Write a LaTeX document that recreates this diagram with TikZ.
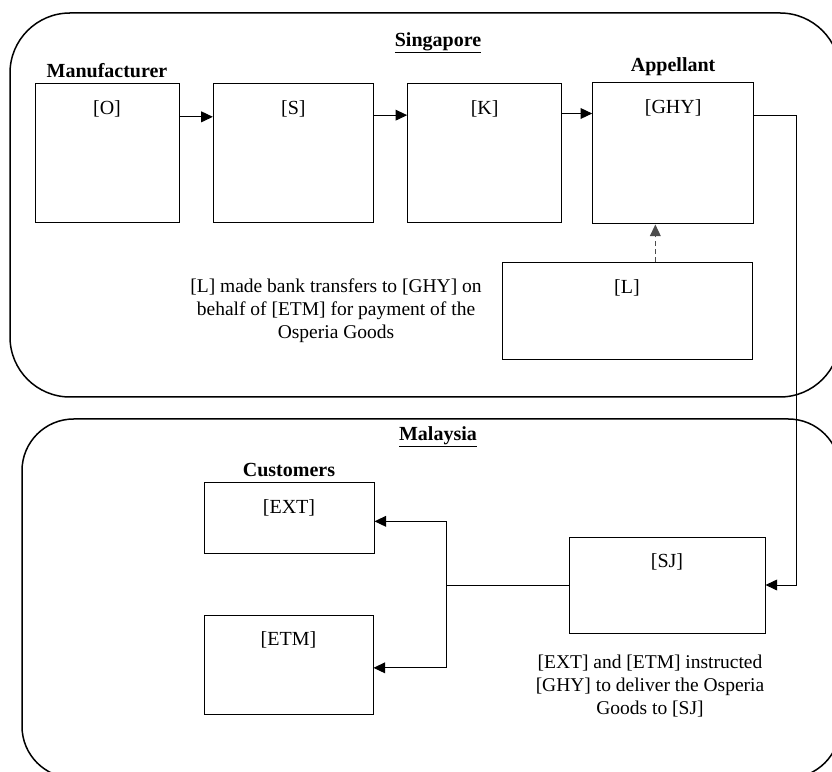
\documentclass[tikz,border=0pt]{standalone}
\usepackage{fontspec}
\setmainfont{Liberation Serif}
\usetikzlibrary{arrows.meta,positioning}

\begin{document}
\begin{tikzpicture}[
        x=0.6pt, y=-0.6pt,
        font=\fontsize{12}{14}\selectfont,
        node distance=20pt,
        region/.style={
          draw,
          line width=0.9pt
        },
        box/.style={
          draw,
          line width=0.6pt,
          inner sep=0pt,
          minimum height=83.4pt
        },
        inbox/.style={
          label={[anchor=north,yshift=-7pt]north:#1}
        },
        tag/.style={
          font=\fontsize{12}{14}\selectfont\bfseries,
          inner sep=1pt
        },
        note/.style={
          align=center,
          inner sep=0pt,
          font=\fontsize{11.7}{13.8}\selectfont
        },
        arrow/.style={
          -{Triangle[length=7pt,width=6.5pt]},
          line width=0.6pt
        },
        dasharrow/.style={
          arrow,
          dash pattern=on 3pt off 2pt,
          black!70
        }
      ]

      \useasboundingbox (0,0) rectangle (832,772);

      % regions
      \draw[region, rounded corners=36pt] (10,13) rectangle (840,397);
      \draw[region, rounded corners=31pt] (22,419) rectangle (840,778);
      \node[tag] (sgtitle) at (438,43) {\underline{Singapore}};
      \node[tag] (mytitle) at (438,437) {\underline{Malaysia}};

      % Singapore chain
      \node[box, minimum width=86.4pt, inbox={[O]}] (o) at (107,153.5) {};
      \node[box, minimum width=96pt, inbox={[S]}, right=20pt of o] (s) {};
      \node[box, minimum width=92.4pt, inbox={[K]}, right=20pt of s] (k) {};
      \node[box, minimum width=96.6pt, minimum height=84.6pt, inbox={[GHY]}, right=18pt of k] (ghy) {};
      \node[box, minimum width=150pt, minimum height=58.2pt, inbox={[L]}] (l) at (627,311.5) {};
      \node[tag, above=2pt of o] (maker) {Manufacturer};
      \node[tag, above=3pt of ghy] (appellant) {Appellant};
      \node[note] (paynote) at (336,311) {[L] made bank transfers to [GHY] on\\behalf of [ETM] for payment of the\\Osperia Goods};

      \draw[arrow] ([yshift=22pt]o.east) -- ([yshift=22pt]s.west);
      \draw[arrow] ([yshift=23pt]s.east) -- ([yshift=23pt]k.west);
      \draw[arrow] ([yshift=24pt]k.east) -- ([yshift=24pt]k.east -| ghy.west);
      \draw[dasharrow] ([xshift=17pt]l.north) -- ([xshift=17pt]l.north |- ghy.south);

      % Malaysia
      \node[box, minimum width=117.6pt, minimum height=57.6pt, inbox={[SJ]}] (sj) at (667,585) {};
      \node[box, minimum width=102pt, minimum height=42pt, inbox={[EXT]}] (ext) at (289,518) {};
      \node[box, minimum width=101.4pt, minimum height=59.4pt, inbox={[ETM]}] (etm) at (288.5,664.5) {};
      \node[tag, above=2pt of ext] (buyers) {Customers};
      \node[note] (delivnote) at (650,686) {[EXT] and [ETM] instructed\\{}[GHY] to deliver the Osperia\\Goods to [SJ]};
      \coordinate (fork) at (446,585);

      \draw[arrow] ([yshift=23pt]ghy.east) -- ++(42,0) |- (sj.east);
      \draw (sj.west) -- (fork);
      \draw[arrow] (fork) |- ([yshift=-2pt]ext.east);
      \draw[arrow] (fork) |- ([yshift=-2pt]etm.east);

      \end{tikzpicture}
\end{document}
